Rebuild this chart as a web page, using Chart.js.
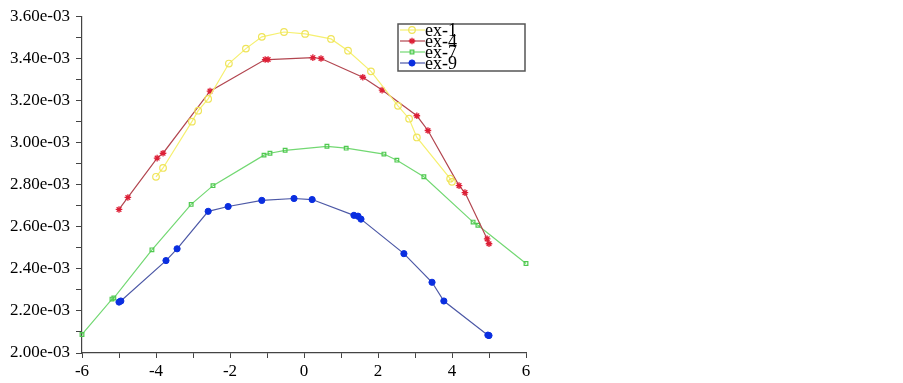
<!DOCTYPE html>
<html>
<head>
<meta charset="utf-8">
<script src="https://cdn.jsdelivr.net/npm/chart.js@4/dist/chart.umd.min.js"></script>
<style>
  html, body { margin: 0; padding: 0; background: #fff; }
  canvas { display: block; }
</style>
</head>
<body>
<canvas id="grafico" width="903" height="383"></canvas>
<script>
const seriesNames = ["ex-1", "ex-4", "ex-7", "ex-9"];

const ex1X = [-4.0, -3.81, -3.03, -2.86, -2.59, -2.03, -1.57, -1.14, -0.54, 0.03, 0.73, 1.19, 1.81, 2.54, 2.84, 3.05, 3.95, 4.0];
const ex1Y = [2.837e-3, 2.879e-3, 3.099e-3, 3.151e-3, 3.207e-3, 3.375e-3, 3.446e-3, 3.502e-3, 3.525e-3, 3.516e-3, 3.492e-3, 3.436e-3, 3.338e-3, 3.174e-3, 3.113e-3, 3.024e-3, 2.828e-3, 2.813e-3];

const ex4X = [-5.0, -4.76, -3.97, -3.81, -2.54, -1.05, -0.97, 0.24, 0.46, 1.59, 2.11, 3.05, 3.35, 4.19, 4.35, 4.95, 5.0];
const ex4Y = [2.682e-3, 2.739e-3, 2.926e-3, 2.949e-3, 3.244e-3, 3.394e-3, 3.394e-3, 3.403e-3, 3.399e-3, 3.310e-3, 3.249e-3, 3.127e-3, 3.057e-3, 2.795e-3, 2.762e-3, 2.542e-3, 2.519e-3];

const ex7X = [-6.0, -5.19, -5.14, -4.11, -3.05, -2.46, -1.08, -0.92, -0.51, 0.62, 1.14, 2.16, 2.51, 3.24, 4.57, 4.70, 6.0];
const ex7Y = [2.088e-3, 2.256e-3, 2.261e-3, 2.490e-3, 2.706e-3, 2.795e-3, 2.940e-3, 2.949e-3, 2.963e-3, 2.982e-3, 2.973e-3, 2.945e-3, 2.916e-3, 2.837e-3, 2.622e-3, 2.607e-3, 2.425e-3];

const ex9X = [-5.0, -4.95, -3.73, -3.43, -2.59, -2.05, -1.14, -0.27, 0.22, 1.35, 1.46, 1.54, 2.70, 3.46, 3.78, 4.97, 5.0];
const ex9Y = [2.242e-3, 2.247e-3, 2.439e-3, 2.495e-3, 2.673e-3, 2.696e-3, 2.725e-3, 2.734e-3, 2.729e-3, 2.654e-3, 2.650e-3, 2.636e-3, 2.472e-3, 2.336e-3, 2.247e-3, 2.085e-3, 2.083e-3];

const xTicks = [-6, -4, -2, 0, 2, 4, 6];
const yTicks = [2.0e-3, 2.2e-3, 2.4e-3, 2.6e-3, 2.8e-3, 3.0e-3, 3.2e-3, 3.4e-3, 3.6e-3];

function pares(xs, ys) {
    return xs.map(function (x, i) { return { x: x, y: ys[i] }; });
}

const fonteSerif = "'Liberation Serif', 'Times New Roman', serif";

// legenda desenhada dentro do grafico, como no original
const legendaPlugin = {
    id: "legendaBox",
    afterDraw: function (chart) {
        const c = chart.ctx;
        const x0 = 398, y0 = 24, w = 127, h = 47;
        c.save();
        c.strokeStyle = "#555";
        c.lineWidth = 1.5;
        c.strokeRect(x0, y0, w, h);
        c.font = "18px " + fonteSerif;
        c.textBaseline = "middle";
        chart.data.datasets.forEach(function (ds, i) {
            const yy = y0 + 6 + i * 11;
            c.strokeStyle = ds.borderColor;
            c.lineWidth = 1.2;
            c.beginPath();
            c.moveTo(x0 + 2, yy);
            c.lineTo(x0 + 27, yy);
            c.stroke();
            c.fillStyle = ds.pointBackgroundColor;
            c.strokeStyle = ds.pointBorderColor;
            c.lineWidth = ds.pointBorderWidth;
            Chart.helpers.drawPoint(c, {
                pointStyle: ds.pointStyle,
                radius: ds.pointRadius,
                borderWidth: ds.pointBorderWidth
            }, x0 + 14, yy);
            c.fillStyle = "#000";
            c.fillText(ds.label, x0 + 27, yy + 1);
        });
        c.restore();
    }
};

document.addEventListener("DOMContentLoaded", function () {
    const ctx = document.getElementById("grafico").getContext("2d");

    new Chart(ctx, {
        type: "scatter",
        data: {
            datasets: [
                {
                    label: seriesNames[0],
                    data: pares(ex1X, ex1Y),
                    showLine: true,
                    borderColor: "#f6f070",
                    borderWidth: 1.2,
                    pointStyle: "circle",
                    pointRadius: 3.3,
                    pointBorderWidth: 1.2,
                    pointBorderColor: "#efe45a",
                    pointBackgroundColor: "rgba(255,255,255,0)",
                },
                {
                    label: seriesNames[1],
                    data: pares(ex4X, ex4Y),
                    showLine: true,
                    borderColor: "#b2454f",
                    borderWidth: 1.2,
                    pointStyle: "star",
                    pointRadius: 3.3,
                    pointBorderWidth: 1.3,
                    pointBorderColor: "#dd1f36",
                    pointBackgroundColor: "#dd1f36",
                },
                {
                    label: seriesNames[2],
                    data: pares(ex7X, ex7Y),
                    showLine: true,
                    borderColor: "#72d872",
                    borderWidth: 1.2,
                    pointStyle: "rect",
                    pointRadius: 2.6,
                    pointBorderWidth: 1.2,
                    pointBorderColor: "#4fc94f",
                    pointBackgroundColor: "rgba(255,255,255,0)",
                },
                {
                    label: seriesNames[3],
                    data: pares(ex9X, ex9Y),
                    showLine: true,
                    borderColor: "#4c58a6",
                    borderWidth: 1.2,
                    pointStyle: "circle",
                    pointRadius: 3.1,
                    pointBorderWidth: 1,
                    pointBorderColor: "#0a2ee0",
                    pointBackgroundColor: "#0a2ee0",
                },
            ],
        },
        options: {
            responsive: false,
            animation: false,
            clip: false,
            layout: { padding: { top: 11, right: 377, left: 0, bottom: 0 } },
            plugins: {
                legend: { display: false },
                tooltip: { enabled: false },
            },
            scales: {
                x: {
                    type: "linear",
                    min: xTicks[0],
                    max: xTicks[xTicks.length - 1],
                    afterFit: function (s) { s.height = 30; },
                    border: { display: true, color: "#444", width: 1.2 },
                    grid: { drawOnChartArea: false, drawTicks: true, tickLength: 5, color: "#444" },
                    ticks: {
                        stepSize: 1,
                        color: "#000",
                        padding: 3,
                        maxRotation: 0,
                        autoSkip: false,
                        font: { family: fonteSerif, size: 17 },
                        callback: function (v) {
                            return xTicks.indexOf(v) >= 0 ? String(v) : "";
                        },
                    },
                },
                y: {
                    type: "linear",
                    min: yTicks[0],
                    max: yTicks[yTicks.length - 1],
                    afterFit: function (s) { s.width = 82; },
                    border: { display: true, color: "#444", width: 1.2 },
                    grid: { drawOnChartArea: false, drawTicks: true, tickLength: 6, color: "#444" },
                    ticks: {
                        stepSize: 0.0001,
                        color: "#000",
                        padding: 6,
                        autoSkip: false,
                        font: { family: fonteSerif, size: 17 },
                        callback: function (v) {
                            const k = Math.round(v * 1e4);
                            if (k % 2 !== 0) return "";
                            return (k / 10).toFixed(2) + "e-03";
                        },
                    },
                },
            },
        },
        plugins: [legendaPlugin],
    });
});
</script>
</body>
</html>
